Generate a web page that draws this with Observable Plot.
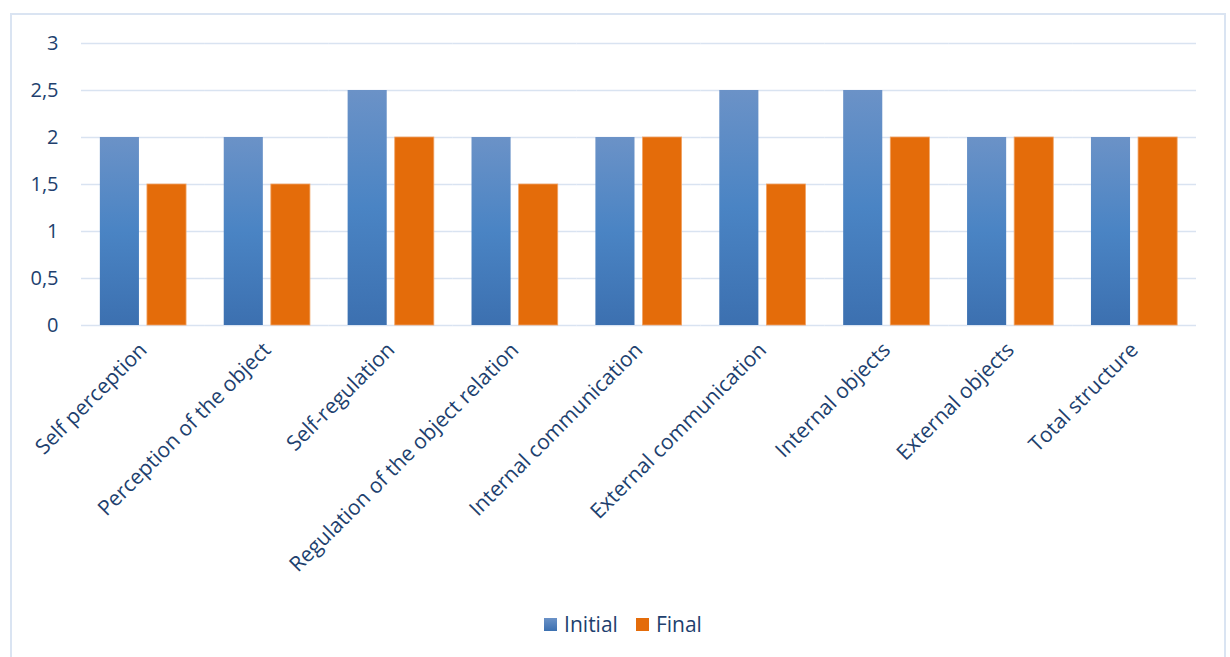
<!DOCTYPE html>
<html>
<head>
<meta charset="utf-8">
<script src="https://cdn.jsdelivr.net/npm/d3@7"></script>
<script src="https://cdn.jsdelivr.net/npm/@observablehq/plot@0.6"></script>
<style>
  body { margin: 0; background: #fff; width: 1230px; height: 657px; overflow: hidden; position: relative; font-family: "Open Sans", sans-serif; }
  #frame { position: absolute; left: 10px; top: 13px; width: 1216px; height: 700px; border: 2px solid #dae4f2; box-sizing: border-box; }
  #chart { position: absolute; left: 0; top: 0; }
  #legend { position: absolute; top: 610px; left: 0; width: 1230px; display: flex; justify-content: center; gap: 18px; font-size: 21px; color: #213f6e; padding-left: 16px; box-sizing: border-box; }
  #legend .item { display: flex; align-items: center; gap: 7px; }
  #legend .sw { width: 13px; height: 13px; display: inline-block; }
</style>
</head>
<body>
<div id="frame"></div>
<div id="chart"></div>
<div id="legend"></div>
<script>
const categories = [
  "Self perception",
  "Perception of the object",
  "Self-regulation",
  "Regulation of the object relation",
  "Internal communication",
  "External communication",
  "Internal objects",
  "External objects",
  "Total structure"
];
const seriesNames = ["Initial", "Final"];
const initialValues = [2, 2, 2.5, 2, 2, 2.5, 2.5, 2, 2];
const finalValues = [1.5, 1.5, 2, 1.5, 2, 1.5, 2, 2, 2];
const yTicks = [0, 0.5, 1, 1.5, 2, 2.5, 3];

const textColor = "#213f6e";
const orange = "#e46c0a";

const data = [];
categories.forEach((c, i) => {
  data.push({category: c, series: "Initial", value: initialValues[i]});
  data.push({category: c, series: "Final", value: finalValues[i]});
});

const plot = Plot.plot({
  width: 1230,
  height: 600,
  marginLeft: 81,
  marginRight: 34,
  marginTop: 43,
  marginBottom: 275,
  style: { fontFamily: "Open Sans, sans-serif", fontSize: "19px", color: textColor, background: "transparent" },
  fx: {
    domain: categories,
    padding: 0,
    round: false,
    axis: "bottom",
    label: null,
    tickRotate: -45,
    tickSize: 0,
    tickPadding: 21
  },
  x: { domain: seriesNames, axis: null, paddingInner: 0.17, paddingOuter: 0.4, round: false },
  y: {
    domain: [0, 3],
    ticks: yTicks,
    tickFormat: d => String(d).replace(".", ","),
    tickSize: 0,
    tickPadding: 23,
    label: null
  },
  marks: [
    Plot.ruleY(yTicks, { stroke: "#d9e3f1", strokeWidth: 1.6, strokeOpacity: 1 }),
    Plot.barY(data, {
      fx: "category",
      x: "series",
      y: "value",
      fill: d => d.series === "Initial" ? "url(#blueGrad)" : orange,
      stroke: d => d.series === "Initial" ? "none" : "#f1a466",
      strokeWidth: 0.8
    })
  ]
});

const svg = d3.select(plot);
const defs = svg.insert("defs", ":first-child");
const g = defs.append("linearGradient").attr("id", "blueGrad").attr("x1", 0).attr("y1", 0).attr("x2", 0).attr("y2", 1);
g.append("stop").attr("offset", "0%").attr("stop-color", "#6b92c7");
g.append("stop").attr("offset", "50%").attr("stop-color", "#4a84c4");
g.append("stop").attr("offset", "100%").attr("stop-color", "#3c70b0");

svg.selectAll("g[aria-label='fx-axis tick label'] text").style("font-size", "21px");
svg.selectAll("g[aria-label='y-axis tick label'] text").style("font-size", "20px");

document.getElementById("chart").appendChild(plot);

const legend = document.getElementById("legend");
seriesNames.forEach(name => {
  const item = document.createElement("span");
  item.className = "item";
  const sw = document.createElement("span");
  sw.className = "sw";
  sw.style.background = name === "Initial" ? "linear-gradient(#6b92c7, #3c70b0)" : orange;
  const t = document.createElement("span");
  t.textContent = name;
  item.appendChild(sw);
  item.appendChild(t);
  legend.appendChild(item);
});
</script>
</body>
</html>
